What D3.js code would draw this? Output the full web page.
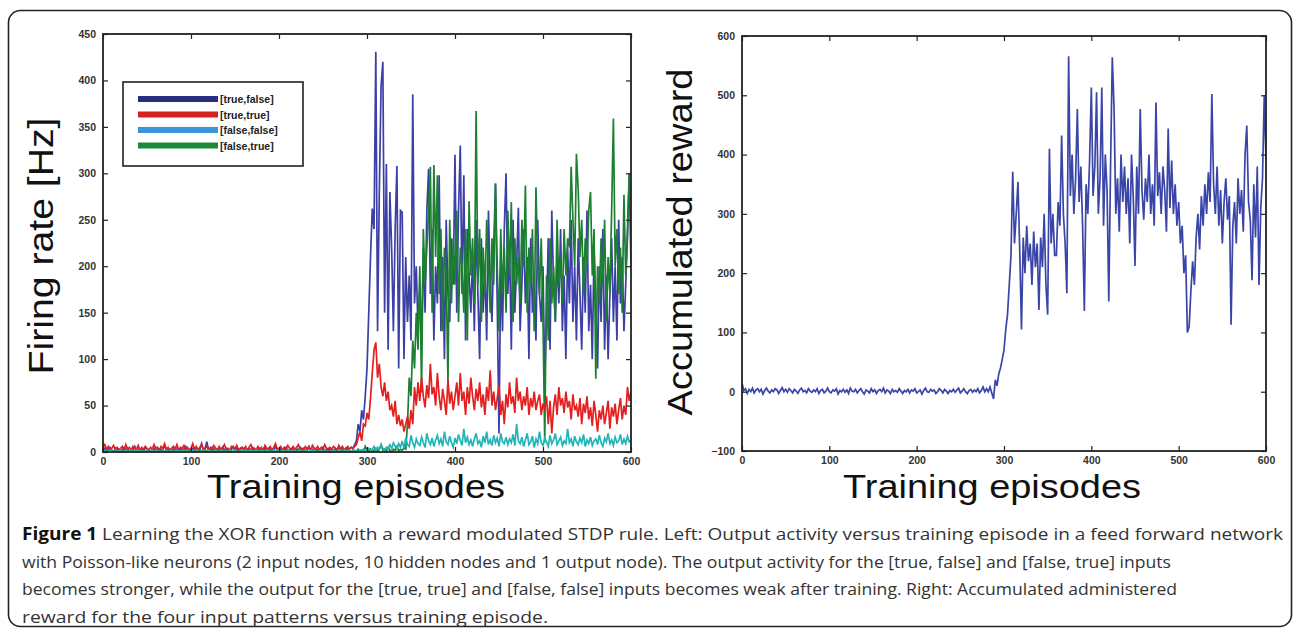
<!DOCTYPE html>
<html><head><meta charset="utf-8">
<script src="https://cdn.jsdelivr.net/npm/d3@7"></script>
<style>body{margin:0;background:#fff}svg{display:block}</style>
</head><body>
<svg id="c" width="1293" height="630"></svg>
<script>
// Episodes sampled every 2 training episodes (0..600)
const episodes = d3.range(0, 601, 2);

// Left panel: output firing rate [Hz] for each input pattern
const trueFalse = [
2,4,1,3,5,2,0,4,2,3, 1,3,5,2,4,0,3,2,6,1, 3,2,4,1,5,3,2,0,4,2, 5,1,3,2,4,6,2,3,1,4,
2,5,3,1,4,2,3,6,2,1, 3,4,2,5,1,3,9,2,4,11, 2,3,5,1,4,2,3,1,5,2, 4,2,1,3,6,2,4,1,3,5,
2,3,1,4,2,5,3,1,2,4, 3,1,5,2,4,1,3,2,6,2, 1,4,2,3,5,1,2,4,3,1, 3,2,5,1,4,2,3,6,1,3,
2,4,1,3,2,5,1,3,4,2, 3,1,4,2,5,3,6,2,4,3, 3,5,4,8,12,30,22,45,35,60,
90,150,210,262,240,431,130,280,394,420, 150,310,110,280,220,130,240,308,90,260,
258,100,210,140,190,120,385,160,200,130, 180,110,220,150,260,305,170,240,120,200,
160,298,130,210,100,250,170,140,230,180, 320,150,260,330,170,298,120,240,190,150,
210,130,250,170,100,230,150,200,120,260, 180,140,220,289,160,20,200,130,240,300,
170,220,110,250,150,200,263,130,180,240, 160,210,100,230,150,190,120,250,170,140,
200,80,150,230,110,260,180,140,210,160, 240,130,190,100,220,160,250,140,200,120,
230,170,110,210,150,260,130,180,100,220, 160,90,200,140,240,110,190,100,170,230,
140,200,120,250,160,210,130,180,240,300, 200];

const trueTrue = [
5,8,3,6,2,4,7,3,5,2, 4,6,2,8,3,5,2,6,4,3, 7,2,5,3,6,4,2,5,3,8, 3,5,2,6,4,9,3,5,2,4,
6,3,8,2,5,4,7,3,5,2, 4,9,3,6,2,5,8,3,4,6, 2,5,3,7,4,2,6,3,5,8, 3,4,2,6,5,3,7,2,4,5,
3,6,2,5,8,3,4,2,6,3, 5,2,7,4,3,6,2,5,9,3, 4,6,2,5,3,7,4,2,6,3, 5,8,3,4,2,6,3,5,2,7,
4,3,6,2,5,3,8,4,2,5, 3,6,4,2,7,3,5,2,4,6, 3,5,4,6,8,15,22,12,30,28,
42,35,58,85,110,118,80,95,70,60, 75,55,65,45,50,38,55,30,40,28,
35,22,30,38,25,45,30,70,50,75, 55,80,60,48,72,58,95,62,70,50,
85,60,45,68,55,40,78,52,65,45, 60,75,50,85,55,65,40,70,52,80,
60,45,68,55,75,48,62,40,70,55, 88,50,65,45,58,72,40,55,30,62,
48,75,52,60,42,80,55,65,45,60, 50,70,40,58,48,65,45,55,62,40,
52,45,60,30,55,20,48,62,40,70, 50,58,42,65,48,55,35,62,45,50,
38,58,30,52,42,60,35,48,28,55, 40,22,45,35,50,30,42,55,25,48,
38,52,30,45,58,35,50,40,70,55, 65];

const falseFalse = [
1,2,0,1,2,1,0,2,1,1, 2,0,1,2,1,0,2,1,0,2, 1,2,0,1,1,2,0,1,2,0, 2,1,1,0,2,1,2,0,1,2,
0,1,2,1,0,2,1,1,2,0, 1,2,0,2,1,0,1,2,1,0, 2,1,0,1,2,1,0,2,0,1, 1,0,2,1,0,2,1,0,1,2,
0,2,1,1,2,0,1,2,1,0, 2,1,0,2,1,1,0,2,1,2, 1,0,2,1,0,2,1,1,0,2, 0,1,2,0,1,2,1,0,2,1,
2,1,0,1,2,0,2,1,0,1, 1,2,1,0,2,1,0,2,1,0, 2,0,1,2,1,0,2,1,3,1,
2,4,1,3,6,2,5,3,7,4, 2,5,3,8,4,10,6,3,9,5,
12,4,15,8,6,18,10,5,14,9, 7,16,10,5,20,12,8,15,6,13,
18,9,14,6,22,11,8,17,10,5, 15,9,19,12,7,25,10,16,8,13,
6,14,20,9,12,5,17,10,22,8, 13,7,18,10,15,6,20,11,9,16,
8,14,10,19,7,30,12,9,16,6, 13,20,8,11,17,5,14,9,22,10,
7,15,11,6,18,9,13,20,8,12, 16,7,12,9,25,10,14,6,17,11,
8,15,10,19,6,13,9,16,7,12, 14,8,18,10,6,15,11,20,9,13,
7,16,10,12,19,8,14,9,17,11, 13];

const falseTrue = [
3,1,0,2,4,1,0,2,1,3, 0,2,1,0,3,1,2,0,1,2, 1,0,2,3,0,1,2,0,1,0, 2,1,0,1,3,0,2,1,0,2,
1,3,0,2,1,0,2,1,3,0, 2,0,1,2,0,3,1,0,2,1, 0,2,1,3,0,1,2,0,1,2, 1,0,2,1,0,4,1,2,0,1,
2,1,0,2,1,0,3,1,0,2, 0,1,2,0,1,3,0,2,1,0, 1,2,0,1,3,0,2,1,0,2, 0,3,1,2,0,1,2,5,1,0,
2,1,0,2,1,3,0,1,2,0, 1,2,0,3,1,0,2,1,0,4, 1,0,2,1,0,3,1,2,0,6,
2,1,3,0,2,4,1,3,8,2, 3,1,5,2,0,3,2,6,1,3,
2,4,3,30,80,60,120,90,150,110, 200,64,240,180,220,260,307,150,309,210,
298,170,240,130,220,190,75,250,160,230, 180,260,140,220,200,150,240,120,270,190,
230,160,367,180,240,140,220,170,250,200, 150,230,180,289,200,130,240,170,220,150,
260,190,269,140,230,180,210,160,250,200, 287,150,220,180,240,130,285,200,170,230,
140,10,190,120,230,160,200,140,250,180, 210,160,240,190,230,220,307,250,200,321,
283,210,250,170,230,200,260,280,190,240, 79,200,160,230,180,250,140,210,170,260,
359,200,240,170,220,150,277,190,230,298, 270];

// Right panel: accumulated reward
const reward = [
15,2,5,-3,4,0,6,-2,3,5, 0,4,-4,2,6,1,-2,3,0,5, 3,-3,2,7,0,4,-1,5,2,-2, 4,1,-3,3,6,0,2,-2,5,1,
-1,3,0,5,-3,2,4,-2,1,6, 0,-2,3,1,5,-4,2,0,4,-1, 3,-3,6,1,0,4,-2,2,5,0, -4,3,1,-2,5,0,3,-3,2,4,
0,6,-2,3,1,-3,4,0,2,-1, 5,1,-3,2,0,4,-2,3,1,5, -2,0,3,-4,2,6,0,-1,4,1, 3,-3,0,5,2,-2,4,1,-3,2,
0,4,-1,3,6,-2,1,5,0,-3, 2,4,-1,3,0,5,-2,2,8,0, 5,0,8,-2,-12,20,10,30,40,55,
70,105,130,180,230,371,250,300,354,240, 105,260,200,280,220,250,180,270,210,250,
138,260,210,300,180,130,410,250,300,230, 230,320,280,432,300,250,166,566,330,400,
300,360,477,320,380,280,136,350,300,390, 513,330,380,505,300,360,513,280,400,340,
152,380,564,480,300,360,270,400,320,380, 300,360,250,400,330,212,380,300,477,340,
290,360,320,400,300,350,280,488,330,370, 300,380,340,270,444,310,390,300,350,280,
320,250,280,200,230,100,110,170,220,180, 260,300,240,330,280,350,300,370,320,502,
350,300,380,280,340,250,320,360,290,330, 113,280,320,250,360,300,340,270,400,449,
320,290,188,350,260,380,180,310,360,500, 390];

const legendLabels = ["[true,false]", "[true,true]", "[false,false]", "[false,true]"];
const xTicks = [0, 100, 200, 300, 400, 500, 600];
const leftYTicks = [0, 50, 100, 150, 200, 250, 300, 350, 400, 450];
const rightYTicks = [-100, 0, 100, 200, 300, 400, 500, 600];
const captionLines = [
  ["Figure 1", " Learning the XOR function with a reward modulated STDP rule. Left: Output activity versus training episode in a feed forward network"],
  ["", "with Poisson-like neurons (2 input nodes, 10 hidden nodes and 1 output node). The output activity for the [true, false] and [false, true] inputs"],
  ["", "becomes stronger, while the output for the [true, true] and [false, false] inputs becomes weak after training. Right: Accumulated administered"],
  ["", "reward for the four input patterns versus training episode."]
];

const svg = d3.select("#c");
svg.append("rect").attr("width", 1293).attr("height", 630).attr("fill", "#fff");
svg.append("rect").attr("x", 8.5).attr("y", 10.5).attr("width", 1283).attr("height", 616)
  .attr("rx", 12).attr("fill", "none").attr("stroke", "#222").attr("stroke-width", 1.6);

function panel(cfg) {
  const x = d3.scaleLinear().domain([0, 600]).range([cfg.x0, cfg.x1]);
  const y = d3.scaleLinear().domain(cfg.yDomain).range([cfg.y1, cfg.y0]);
  const g = svg.append("g");
  const clipId = "clip" + cfg.id;
  g.append("clipPath").attr("id", clipId).append("rect")
    .attr("x", cfg.x0).attr("y", cfg.y0).attr("width", cfg.x1 - cfg.x0).attr("height", cfg.y1 - cfg.y0);
  const lines = g.append("g").attr("clip-path", `url(#${clipId})`);
  cfg.series.forEach(s => {
    const line = d3.line().x((d, i) => x(episodes[i])).y(d => y(d));
    lines.append("path").datum(s.values).attr("d", line)
      .attr("fill", "none").attr("stroke", s.color).attr("stroke-width", 1.7)
      .attr("stroke-linejoin", "miter");
  });
  const tickStyle = sel => {
    sel.select(".domain").remove();
    sel.selectAll(".tick line").attr("stroke", "#222").attr("stroke-width", 1.2);
    sel.selectAll(".tick text").attr("fill", "#333").attr("font-family", "Liberation Sans, Arial, sans-serif")
      .attr("font-size", 10.5).attr("font-weight", "bold");
  };
  g.append("g").attr("transform", `translate(0,${cfg.y1})`)
    .call(d3.axisBottom(x).tickValues(xTicks).tickSize(-5).tickPadding(6)).call(tickStyle);
  g.append("g").attr("transform", `translate(0,${cfg.y0})`)
    .call(d3.axisTop(x).tickValues(xTicks).tickSize(-5).tickFormat("")).call(tickStyle);
  g.append("g").attr("transform", `translate(${cfg.x0},0)`)
    .call(d3.axisLeft(y).tickValues(cfg.yTicks).tickSize(-5).tickPadding(7)).call(tickStyle);
  g.append("g").attr("transform", `translate(${cfg.x1},0)`)
    .call(d3.axisRight(y).tickValues(cfg.yTicks).tickSize(-5).tickFormat("")).call(tickStyle);
  g.append("rect").attr("x", cfg.x0).attr("y", cfg.y0).attr("width", cfg.x1 - cfg.x0).attr("height", cfg.y1 - cfg.y0)
    .attr("fill", "none").attr("stroke", "#222").attr("stroke-width", 1.8);
  // axis titles
  g.append("text").attr("x", cfg.xLabelX).attr("y", 498).attr("text-anchor", "middle")
    .attr("font-family", "Liberation Sans, Arial, sans-serif").attr("font-size", 34).attr("fill", "#111")
    .attr("textLength", 298).attr("lengthAdjust", "spacingAndGlyphs").text("Training episodes");
  g.append("text").attr("transform", `translate(${cfg.yLabelX},${cfg.yLabelY}) rotate(-90)`)
    .attr("text-anchor", "middle").attr("font-family", "Liberation Sans, Arial, sans-serif")
    .attr("font-size", 35).attr("fill", "#111")
    .attr("textLength", cfg.yLabelLen).attr("lengthAdjust", "spacingAndGlyphs").text(cfg.yLabel);
  return { x, y, g };
}

panel({
  id: "L", x0: 103, x1: 631, y0: 34, y1: 452, yDomain: [0, 450], yTicks: leftYTicks,
  xLabelX: 356, yLabelX: 53, yLabelY: 246, yLabelLen: 257, yLabel: "Firing rate [Hz]",
  series: [
    { values: trueFalse, color: "#3b3fa6" },
    { values: falseTrue, color: "#1d7f32" },
    { values: trueTrue, color: "#e41f1f" },
    { values: falseFalse, color: "#22b5b8" }
  ]
});

panel({
  id: "R", x0: 742, x1: 1266, y0: 36, y1: 451, yDomain: [-100, 600], yTicks: rightYTicks,
  xLabelX: 992, yLabelX: 692, yLabelY: 242, yLabelLen: 347, yLabel: "Accumulated reward",
  series: [{ values: reward, color: "#3a45a8" }]
});

// Legend
const legendColors = ["#2a2c80", "#d42323", "#3a94d8", "#1a8a3a"];
const lg = svg.append("g");
lg.append("rect").attr("x", 123).attr("y", 82).attr("width", 180).attr("height", 84)
  .attr("fill", "#fff").attr("stroke", "#222").attr("stroke-width", 1.6);
legendLabels.forEach((lab, i) => {
  const yy = 99 + i * 15.5;
  lg.append("line").attr("x1", 138).attr("x2", 218).attr("y1", yy).attr("y2", yy)
    .attr("stroke", legendColors[i]).attr("stroke-width", 6);
  lg.append("text").attr("x", 220).attr("y", yy + 4).attr("font-family", "Liberation Sans, Arial, sans-serif")
    .attr("font-size", 10.5).attr("font-weight", "bold").attr("fill", "#222").text(lab);
});

// Caption
const capLens = [1261, 1149, 1155, 526];
captionLines.forEach((ln, i) => {
  const t = svg.append("text").attr("x", 22).attr("y", 540 + i * 27.5)
    .attr("font-family", "Open Sans, sans-serif").attr("font-size", 17).attr("fill", "#333")
    .attr("textLength", capLens[i]).attr("lengthAdjust", "spacingAndGlyphs");
  if (ln[0]) t.append("tspan").attr("font-weight", "bold").attr("fill", "#111").text(ln[0]);
  t.append("tspan").text(ln[1]);
});
</script>
</body></html>
